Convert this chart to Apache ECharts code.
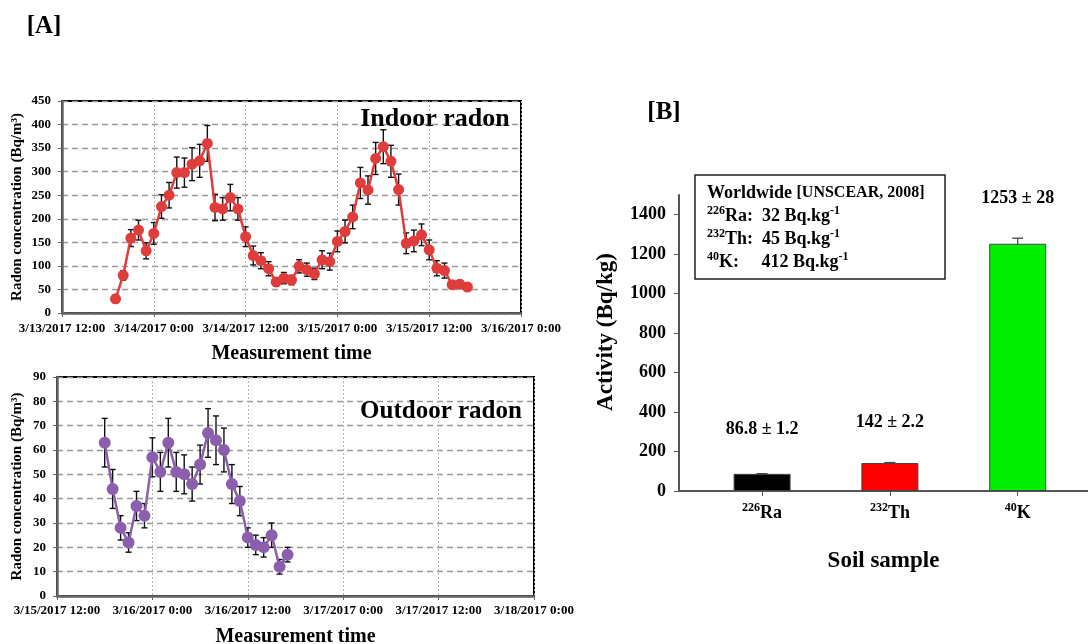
<!DOCTYPE html>
<html><head><meta charset="utf-8">
<script src="https://cdn.jsdelivr.net/npm/echarts@6/dist/echarts.min.js"></script>
<style>html,body{margin:0;padding:0;background:#fff}#c{width:1088px;height:644px}</style>
</head><body><div id="c"></div>
<script>
// ---------- Data ----------
const indoorTimes = [
  '2017-03-13 19:00','2017-03-13 20:00','2017-03-13 21:00','2017-03-13 22:00','2017-03-13 23:00',
  '2017-03-14 00:00','2017-03-14 01:00','2017-03-14 02:00','2017-03-14 03:00','2017-03-14 04:00',
  '2017-03-14 05:00','2017-03-14 06:00','2017-03-14 07:00','2017-03-14 08:00','2017-03-14 09:00',
  '2017-03-14 10:00','2017-03-14 11:00','2017-03-14 12:00','2017-03-14 13:00','2017-03-14 14:00',
  '2017-03-14 15:00','2017-03-14 16:00','2017-03-14 17:00','2017-03-14 18:00','2017-03-14 19:00',
  '2017-03-14 20:00','2017-03-14 21:00','2017-03-14 22:00','2017-03-14 23:00','2017-03-15 00:00',
  '2017-03-15 01:00','2017-03-15 02:00','2017-03-15 03:00','2017-03-15 04:00','2017-03-15 05:00',
  '2017-03-15 06:00','2017-03-15 07:00','2017-03-15 08:00','2017-03-15 09:00','2017-03-15 10:00',
  '2017-03-15 11:00','2017-03-15 12:00','2017-03-15 13:00','2017-03-15 14:00','2017-03-15 15:00',
  '2017-03-15 16:00','2017-03-15 17:00'
];
const indoorValues = [30,80,159,176,132,169,226,250,298,298,316,323,360,224,221,245,221,162,122,111,94,66,74,70,99,92,83,113,109,152,173,204,276,261,328,353,322,262,148,153,166,134,95,90,60,61,55];
const indoorErrors = [8,10,18,21,17,23,25,27,33,31,35,35,38,28,24,28,24,21,20,17,15,9,12,10,14,14,12,19,18,22,24,25,33,30,34,36,34,33,22,23,23,21,16,16,8,8,6];

const outdoorTimes = [
  '2017-03-15 18:00','2017-03-15 19:00','2017-03-15 20:00','2017-03-15 21:00','2017-03-15 22:00',
  '2017-03-15 23:00','2017-03-16 00:00','2017-03-16 01:00','2017-03-16 02:00','2017-03-16 03:00',
  '2017-03-16 04:00','2017-03-16 05:00','2017-03-16 06:00','2017-03-16 07:00','2017-03-16 08:00',
  '2017-03-16 09:00','2017-03-16 10:00','2017-03-16 11:00','2017-03-16 12:00','2017-03-16 13:00',
  '2017-03-16 14:00','2017-03-16 15:00','2017-03-16 16:00','2017-03-16 17:00'
];
const outdoorValues = [63,44,28,22,37,33,57,51,63,51,50,46,54,67,64,60,46,39,24,21,20,25,12,17];
const outdoorErrors = [10,8,5,4,6,5,8,8,10,8,8,7,8,10,10,9,8,6,4,4,4,5,3,3];

const indoorRange = ['2017-03-13 12:00','2017-03-16 00:00'];
const outdoorRange = ['2017-03-15 12:00','2017-03-18 00:00'];

const soilMass = ['226','232','40'];
const soilElements = ['Ra','Th','K'];
const soilValues = [86.8,142,1253];
const soilErrors = [1.2,2.2,28];
const soilColors = ['#000000','#ff0000','#00ee00'];
const soilTicks = [0,200,400,600,800,1000,1200,1400];

const worldwide = [
  {mass:'226', el:'Ra', gap:'  ', val:'32'},
  {mass:'232', el:'Th', gap:'  ', val:'45'},
  {mass:'40',  el:'K',  gap:'     ', val:'412'}
];

// ---------- Helpers ----------
const FONT = 'Liberation Serif';
const RED = '#de3d3b';
const PURPLE = '#8c5eae';
const H12 = 12 * 3600 * 1000;
const toMs = s => Date.parse(s.replace(' ', 'T') + ':00Z');
const fmtTime = v => {
  const d = new Date(v);
  const m = d.getUTCMinutes();
  return (d.getUTCMonth() + 1) + '/' + d.getUTCDate() + '/' + d.getUTCFullYear() + ' ' +
    d.getUTCHours() + ':' + (m < 10 ? '0' + m : m);
};

function errorBar(color, capHalf, lw, bottomCap) {
  return function (params, api) {
    const x = api.value(0), y = api.value(1), e = api.value(2);
    const t = api.coord([x, y + e]), b = api.coord([x, y - e]);
    const st = {stroke: color, lineWidth: lw};
    const ch = [
      {type: 'line', shape: {x1: t[0], y1: t[1], x2: b[0], y2: b[1]}, style: st},
      {type: 'line', shape: {x1: t[0] - capHalf, y1: t[1], x2: t[0] + capHalf, y2: t[1]}, style: st}
    ];
    if (bottomCap) ch.push({type: 'line', shape: {x1: b[0] - capHalf, y1: b[1], x2: b[0] + capHalf, y2: b[1]}, style: st});
    return {type: 'group', children: ch};
  };
}

const boldTxt = (size) => ({fontFamily: FONT, fontWeight: 'bold', fontSize: size, color: '#000'});

function timeXAxis(gridIndex, range, labelMargin, nameGap) {
  return {
    type: 'value', gridIndex: gridIndex,
    min: toMs(range[0]), max: toMs(range[1]), interval: H12,
    axisLine: {onZero: false, lineStyle: {color: '#666', width: 2.5}},
    axisTick: {show: true, length: 4, lineStyle: {color: '#666', width: 1}},
    axisLabel: Object.assign(boldTxt(13), {formatter: fmtTime, margin: labelMargin, showMinLabel: true, showMaxLabel: true, hideOverlap: false}),
    splitLine: {show: true, lineStyle: {type: [2, 2], color: '#b5b5b5', width: 1}},
    name: 'Measurement time', nameLocation: 'middle', nameGap: nameGap,
    nameTextStyle: boldTxt(20)
  };
}
function radonYAxis(gridIndex, max, interval, nameGap) {
  return {
    type: 'value', gridIndex: gridIndex, min: 0, max: max, interval: interval,
    axisLine: {show: true, onZero: false, lineStyle: {color: '#666', width: 2.5}},
    axisTick: {show: true, length: 4, lineStyle: {color: '#666', width: 1}},
    axisLabel: Object.assign(boldTxt(13), {margin: 11, formatter: v => String(v)}),
    splitLine: {show: true, lineStyle: {type: [6, 4], color: '#999', width: 1.3}},
    name: 'Radon concentration (Bq/m³)', nameLocation: 'middle', nameGap: nameGap,
    nameTextStyle: boldTxt(15)
  };
}

const supRich = {
  sup: {fontFamily: FONT, fontWeight: 'bold', fontSize: 12, color: '#000', fill: '#000', verticalAlign: 'top', lineHeight: 12},
  b: {fontFamily: FONT, fontWeight: 'bold', fontSize: 18, color: '#000', fill: '#000', lineHeight: 22},
  s: {fontFamily: FONT, fontWeight: 'bold', fontSize: 16, color: '#000', fill: '#000', lineHeight: 22}
};

// ---------- Chart ----------
const chart = echarts.init(document.getElementById('c'), null, {renderer: 'canvas'});

const legendLines = [{text: '{b|Worldwide }{s|[UNSCEAR, 2008]}', y: 193}].concat(
  worldwide.map((w, i) => ({text: '{sup|' + w.mass + '}{b|' + w.el + ':' + w.gap + w.val + ' Bq.kg}{sup|-1}', y: 216 + i * 23}))
);

const option = {
  animation: false,
  backgroundColor: '#fff',
  textStyle: {fontFamily: FONT},
  grid: [
    {left: 62, top: 101, width: 459, height: 212, show: true, borderColor: '#000', borderWidth: 2, backgroundColor: 'transparent', outerBoundsMode: 'none', containLabel: false},
    {left: 57, top: 377, width: 477, height: 219, show: true, borderColor: '#000', borderWidth: 2, backgroundColor: 'transparent', outerBoundsMode: 'none', containLabel: false},
    {left: 679, top: 195, width: 409, height: 296, outerBoundsMode: 'none', containLabel: false}
  ],
  xAxis: [
    timeXAxis(0, indoorRange, 9, 31),
    timeXAxis(1, outdoorRange, 8, 31),
    {
      type: 'value', gridIndex: 2, min: -0.65, max: 2.55,
      axisLine: {onZero: false, lineStyle: {color: '#555', width: 2}},
      axisTick: {show: true, length: 5, customValues: [0, 1, 2], lineStyle: {color: '#555'}},
      axisLabel: {
        customValues: [0, 1, 2], margin: 11,
        formatter: v => '{sup|' + soilMass[Math.round(v)] + '}{b|' + soilElements[Math.round(v)] + '}',
        rich: supRich
      },
      splitLine: {show: false},
      name: 'Soil sample', nameLocation: 'middle', nameGap: 59,
      nameTextStyle: boldTxt(23)
    }
  ],
  yAxis: [
    radonYAxis(0, 450, 50, 37),
    radonYAxis(1, 90, 10, 32),
    {
      type: 'value', gridIndex: 2, min: 0, max: 1500,
      axisLine: {show: true, onZero: false, lineStyle: {color: '#555', width: 2}},
      axisTick: {show: true, length: 5, customValues: soilTicks, lineStyle: {color: '#555'}},
      axisLabel: Object.assign(boldTxt(18), {customValues: soilTicks, margin: 13, formatter: v => String(v)}),
      splitLine: {show: false},
      name: 'Activity (Bq/kg)', nameLocation: 'middle', nameGap: 61,
      nameTextStyle: Object.assign(boldTxt(23), {padding: [0, 0, 0, 22]})
    }
  ],
  series: [
    {
      type: 'custom', xAxisIndex: 0, yAxisIndex: 0, z: 2,
      renderItem: errorBar('#111', 3, 1.4, true),
      data: indoorTimes.map((t, i) => [toMs(t), indoorValues[i], indoorErrors[i]])
    },
    {
      type: 'line', xAxisIndex: 0, yAxisIndex: 0, z: 3,
      symbol: 'circle', symbolSize: 11,
      lineStyle: {color: RED, width: 2.5}, itemStyle: {color: RED},
      data: indoorTimes.map((t, i) => [toMs(t), indoorValues[i]])
    },
    {
      type: 'custom', xAxisIndex: 1, yAxisIndex: 1, z: 2,
      renderItem: errorBar('#111', 3, 1.4, true),
      data: outdoorTimes.map((t, i) => [toMs(t), outdoorValues[i], outdoorErrors[i]])
    },
    {
      type: 'line', xAxisIndex: 1, yAxisIndex: 1, z: 3,
      symbol: 'circle', symbolSize: 12,
      lineStyle: {color: PURPLE, width: 2.5}, itemStyle: {color: PURPLE},
      data: outdoorTimes.map((t, i) => [toMs(t), outdoorValues[i]])
    },
    {
      type: 'custom', xAxisIndex: 2, yAxisIndex: 2, z: 2,
      renderItem: errorBar('#444', 5.5, 1.3, false),
      data: soilValues.map((v, i) => [i, v, soilErrors[i]])
    },
    {
      type: 'bar', xAxisIndex: 2, yAxisIndex: 2, z: 3, barWidth: 57,
      itemStyle: {borderColor: '#444', borderWidth: 1},
      label: {
        show: true, position: 'top', distance: 35,
        fontFamily: FONT, fontWeight: 'bold', fontSize: 18, color: '#000',
        formatter: p => soilValues[p.dataIndex] + ' ± ' + soilErrors[p.dataIndex]
      },
      data: soilValues.map((v, i) => ({
        value: [i, v],
        itemStyle: {color: soilColors[i]},
        label: {distance: [36, 32, 36][i]}
      }))
    }
  ],
  graphic: [
    {type: 'text', x: 44, y: 27, style: {text: '[A]', fontFamily: FONT, fontWeight: 'bold', fontSize: 25, fill: '#000', align: 'center', verticalAlign: 'middle'}},
    {type: 'text', x: 664, y: 113, style: {text: '[B]', fontFamily: FONT, fontWeight: 'bold', fontSize: 25, fill: '#000', align: 'center', verticalAlign: 'middle'}},
    {type: 'text', x: 435, y: 119, z: 10, style: {text: 'Indoor radon', fontFamily: FONT, fontWeight: 'bold', fontSize: 26, fill: '#000', align: 'center', verticalAlign: 'middle'}},
    {type: 'text', x: 441, y: 412, z: 10, style: {text: 'Outdoor radon', fontFamily: FONT, fontWeight: 'bold', fontSize: 25, fill: '#000', align: 'center', verticalAlign: 'middle'}},
    {type: 'rect', x: 695, y: 175, z: 10, shape: {width: 250, height: 104}, style: {fill: '#fff', stroke: '#222', lineWidth: 1.5}}
  ].concat(legendLines.map(l => ({
    type: 'text', x: 707, y: l.y, z: 11,
    style: {text: l.text, rich: supRich, fontFamily: FONT, fontWeight: 'bold', fontSize: 18, fill: '#000', align: 'left', verticalAlign: 'middle'}
  })))
};
chart.setOption(option);
</script>
</body></html>
